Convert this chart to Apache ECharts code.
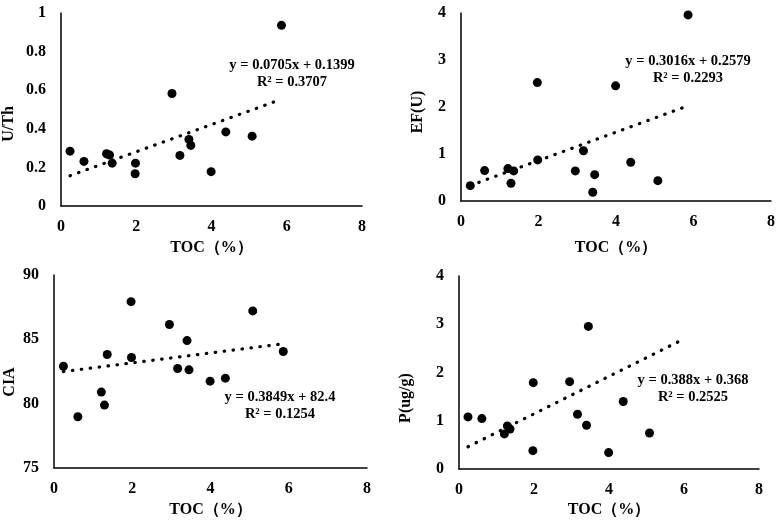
<!DOCTYPE html>
<html>
<head>
<meta charset="utf-8">
<script src="https://cdn.jsdelivr.net/npm/echarts@6/dist/echarts.min.js"></script>
<style>
html,body{margin:0;padding:0;background:#fff;}
#main{width:782px;height:524px;}
</style>
</head>
<body>
<div id="main"></div>
<script>
// TOC (%) of each sample, shared by all four panels
var toc = [0.24, 0.61, 1.21, 1.29, 1.36, 1.97, 1.98, 2.95, 3.16, 3.40, 3.45, 3.99, 4.38, 5.08, 5.86];
var uth = [0.284, 0.231, 0.271, 0.264, 0.222, 0.167, 0.222, 0.583, 0.262, 0.345, 0.314, 0.178, 0.384, 0.362, 0.936];
var efu = [0.327, 0.647, 0.689, 0.377, 0.64, 2.52, 0.874, 0.64, 1.07, 0.185, 0.56, 2.45, 0.824, 0.433, 3.96];
var cia = [82.91, 78.98, 80.90, 79.89, 83.82, 87.93, 83.59, 86.15, 82.73, 84.90, 82.63, 81.75, 81.98, 87.21, 84.05];
var pug = [1.08, 1.045, 0.727, 0.893, 0.83, 0.38, 1.79, 1.81, 1.135, 0.907, 2.955, 0.34, 1.40, 0.747, null];

var yNames = ['U/Th', 'EF(U)', 'CIA', 'P(ug/g)'];
var slopes = [0.0705, 0.3016, 0.3849, 0.388];
var intercepts = [0.1399, 0.2579, 82.4, 0.368];
var eqTexts = ['y = 0.0705x + 0.1399', 'y = 0.3016x + 0.2579', 'y = 0.3849x + 82.4', 'y = 0.388x + 0.368'];
var r2Texts = ['R² = 0.3707', 'R² = 0.2293', 'R² = 0.1254', 'R² = 0.2525'];
var yMin = [0, 0, 75, 0];
var yMax = [1, 4, 90, 4];
var yStep = [0.2, 1, 5, 1];

var allY = [uth, efu, cia, pug];
var font = 'Liberation Serif, "Times New Roman", serif';

var grids = [
    {left: 61, right: 420, top: 13, bottom: 318},
    {left: 461, right: 11, top: 13, bottom: 323},
    {left: 54, right: 415, top: 275, bottom: 56},
    {left: 459, right: 23, top: 276, bottom: 55}
];
var xNameGap = [34, 39, 34, 33];
var eqPos = [[292, 65], [688, 61], [280, 397], [693, 380]];
var yNamePos = [[9, 124], [418, 112], [10, 382], [406, 398]];

var xAxes = [], yAxes = [], series = [], graphics = [];
var xMinData = Math.min.apply(null, toc), xMaxData = Math.max.apply(null, toc);

for (var i = 0; i < 4; i++) {
    xAxes.push({
        gridIndex: i,
        type: 'value',
        min: 0, max: 8, interval: 2,
        name: 'TOC（%）',
        nameLocation: 'middle',
        nameGap: xNameGap[i],
        nameTextStyle: {color: '#000', fontSize: 16, fontWeight: 'bold', fontFamily: font},
        axisLine: {lineStyle: {color: '#000', width: 1.5}},
        axisTick: {show: false},
        splitLine: {show: false},
        axisLabel: {color: '#000', fontSize: 16, fontWeight: 'bold', fontFamily: font, margin: 13}
    });
    yAxes.push({
        gridIndex: i,
        type: 'value',
        min: yMin[i], max: yMax[i], interval: yStep[i],
        axisLine: {show: true, lineStyle: {color: '#000', width: 1.5}},
        axisTick: {show: false},
        splitLine: {show: false},
        axisLabel: {color: '#000', fontSize: 16, fontWeight: 'bold', fontFamily: font, margin: 15}
    });
    var pts = [];
    for (var k = 0; k < toc.length; k++) {
        if (allY[i][k] != null) pts.push([toc[k], allY[i][k]]);
    }
    series.push({
        type: 'scatter',
        xAxisIndex: i, yAxisIndex: i,
        symbolSize: 9,
        itemStyle: {color: '#000', opacity: 1},
        data: pts,
        z: 3
    });
    // linear trendline from the equation printed on the chart
    series.push({
        type: 'line',
        xAxisIndex: i, yAxisIndex: i,
        showSymbol: false,
        lineStyle: {color: '#000', width: 3.2, type: [0.5, 8.5], cap: 'round'},
        data: [[xMinData, slopes[i] * xMinData + intercepts[i]],
               [xMaxData, slopes[i] * xMaxData + intercepts[i]]],
        z: 2
    });
    graphics.push({
        type: 'text', x: eqPos[i][0], y: eqPos[i][1],
        style: {text: eqTexts[i], fill: '#000', textAlign: 'center', textVerticalAlign: 'middle',
                font: 'bold 14.5px ' + font}
    });
    graphics.push({
        type: 'text', x: eqPos[i][0], y: eqPos[i][1] + 17,
        style: {text: r2Texts[i], fill: '#000', textAlign: 'center', textVerticalAlign: 'middle',
                font: 'bold 14.5px ' + font}
    });
    graphics.push({
        type: 'text', x: yNamePos[i][0], y: yNamePos[i][1], rotation: Math.PI / 2,
        style: {text: yNames[i], fill: '#000', textAlign: 'center', textVerticalAlign: 'middle',
                font: 'bold 16px ' + font}
    });
}

var chart = echarts.init(document.getElementById('main'));
chart.setOption({
    backgroundColor: '#fff',
    animation: false,
    grid: grids,
    xAxis: xAxes,
    yAxis: yAxes,
    series: series,
    graphic: graphics
});
</script>
</body>
</html>
